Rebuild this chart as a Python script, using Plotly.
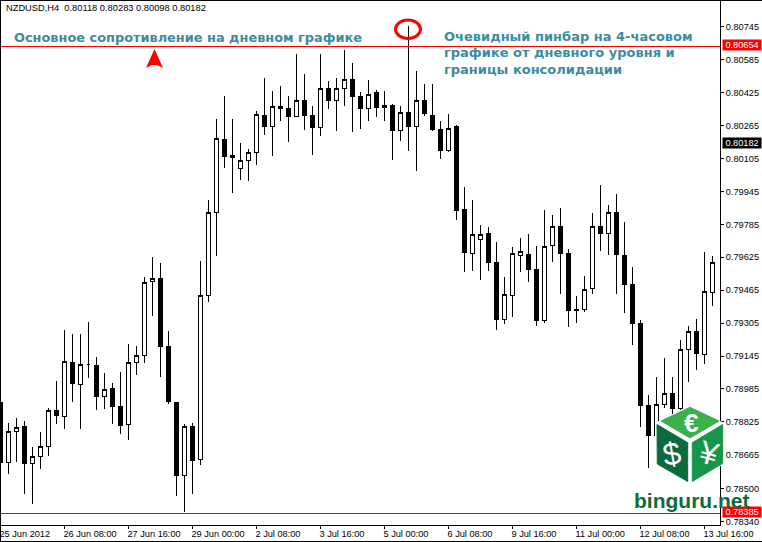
import plotly.graph_objects as go

opens = [.78920,.78629,.78779,.78804,.78624,.78658,.78706,.78881,.78852,.79114,
 .79008,.79105,.79100,.78949,.78988,.78901,.78813,.79114,.79148,.79508,
 .79522,.79192,.78920,.78563,.78804,.78641,.79440,.79843,.80198,.80117,
 .80057,.80096,.80135,.80315,.80261,.80358,.80349,.80310,.80387,.80315,
 .80254,.80446,.80387,.80446,.80489,.80407,.80349,.80426,.80353,.80363,
 .80240,.80329,.80261,.80387,.80315,.80246,.80143,.80258,.79858,.79644,
 .79712,.79741,.79600,.79323,.79440,.79634,.79639,.79566,.79318,.79683,
 .79775,.79644,.79372,.79370,.79474,.79775,.79741,.79843,.79634,.79493,
 .79304,.78906,.78758,.78910,.78964,.78892,.79178,.79265,.79153,.79455]
highs = [.78920,.78818,.78844,.78828,.78701,.78776,.78892,.79024,.79271,.79252,
 .79252,.79309,.79139,.79061,.79012,.79066,.79202,.79192,.79527,.79625,
 .79595,.79265,.78920,.78813,.78821,.79605,.79903,.80295,.80407,.80295,
 .80178,.80149,.80334,.80494,.80431,.80455,.80407,.80611,.80514,.80358,
 .80611,.80480,.80494,.80630,.80567,.80426,.80485,.80436,.80431,.80368,
 .80358,.80747,.80528,.80465,.80465,.80287,.80319,.80267,.79965,.79902,
 .79780,.79770,.79697,.79527,.79673,.79717,.79736,.79678,.79853,.79829,
 .79863,.79664,.79435,.79532,.79838,.79974,.79877,.79931,.79795,.79576,
 .79318,.78954,.79042,.79134,.79042,.79221,.79289,.79323,.79649,.79630]
lows = [.78627,.78573,.78632,.78476,.78427,.78598,.78661,.78816,.78792,.78923,
 .78792,.79040,.78884,.78889,.78816,.78768,.78738,.79054,.79112,.79341,
 .79044,.78913,.78466,.78385,.78476,.78617,.79409,.79632,.80060,.79938,
 .80002,.79997,.80072,.80220,.80118,.80285,.80186,.80306,.80242,.80123,
 .80215,.80347,.80240,.80361,.80235,.80249,.80288,.80308,.80288,.80099,
 .80191,.80143,.80045,.80313,.80240,.80104,.80138,.79807,.79555,.79560,
 .79516,.79560,.79273,.79302,.79336,.79555,.79506,.79292,.79307,.79603,
 .79448,.79287,.79307,.79360,.79448,.79657,.79637,.79448,.79355,.79200,
 .78801,.78602,.78641,.78892,.78786,.78873,.79020,.79079,.79108,.79389]
closes = [.78627,.78779,.78797,.78622,.78656,.78704,.78881,.78855,.79119,.79010,
 .79105,.79105,.78947,.78983,.78899,.78806,.79114,.79148,.79503,.79522,
 .79190,.78923,.78563,.78801,.78638,.79440,.79843,.80203,.80113,.80110,
 .80096,.80135,.80319,.80261,.80358,.80347,.80308,.80387,.80313,.80254,
 .80446,.80387,.80446,.80489,.80405,.80347,.80417,.80351,.80363,.80240,
 .80329,.80259,.80387,.80322,.80245,.80143,.80251,.79851,.79647,.79736,
 .79736,.79600,.79321,.79445,.79644,.79654,.79564,.79316,.79678,.79775,
 .79642,.79365,.79365,.79469,.79775,.79739,.79843,.79637,.79491,.79304,
 .78904,.78758,.78910,.78962,.78892,.79178,.79265,.79156,.79459,.79600]

price_ticks = [0.80745,0.80585,0.80425,0.80265,0.80105,0.79945,0.79785,0.79625,0.79465,
               0.79305,0.79145,0.78985,0.78825,0.78665,0.78500,0.78340]
time_idx = [0,8,16,24,32,40,48,56,64,72,80,88]
time_labels = ["25 Jun 2012","26 Jun 08:00","27 Jun 16:00","29 Jun 00:00","2 Jul 08:00","3 Jul 16:00",
               "5 Jul 00:00","6 Jul 08:00","9 Jul 16:00","11 Jul 00:00","12 Jul 08:00","13 Jul 16:00"]
resistance = 0.80654
support = 0.78385
last_price = 0.80182
header = "NZDUSD,H4  0.80118 0.80283 0.80098 0.80182"
note_left = "Основное сопротивление на дневном графике"
note_right = ["Очевидный пинбар на 4-часовом", "графике от дневного уровня и", "границы консолидации"]

W, H = 762, 542
ML, MR, MT, MB = 0, 42, 1, 17
PW, PH = W - ML - MR, H - MT - MB
def px(x): return (x - ML) / PW
def py(y): return 1 - (y - MT) / PH
def poly(pts, close=True):
    return "M" + " L".join(f"{px(a):.5f},{py(b):.5f}" for a, b in pts) + (" Z" if close else "")

FONT = "Liberation Sans"
TEAL = "#3d8aa5"

fig = go.Figure(go.Candlestick(
    x=list(range(len(opens))), open=opens, high=highs, low=lows, close=closes,
    whiskerwidth=0,
    increasing=dict(fillcolor="white", line=dict(color="black", width=1)),
    decreasing=dict(fillcolor="black", line=dict(color="black", width=1)),
    hoverinfo="skip", showlegend=False,
))

def level(value):
    return dict(type="line", xref="paper", yref="y", ysizemode="pixel", yanchor=value,
                x0=0, x1=1, y0=-1, y1=-1, line=dict(color="#ff0000", width=1))

shapes = [
    level(resistance), level(support),
    dict(type="path", xref="paper", yref="paper", path=poly([(761.5,0.5),(0.5,0.5),(0.5,541.5),(761.5,541.5)], close=False),
         line=dict(color="black", width=1), fillcolor="rgba(0,0,0,0)"),
    dict(type="circle", xref="paper", yref="paper", x0=px(395.5), x1=px(420.5), y0=py(38.5), y1=py(20), line=dict(color="#ff0000", width=3), fillcolor="rgba(0,0,0,0)"),
    dict(type="path", xref="paper", yref="paper", path=poly([(154.5,49),(146,68),(152,65),(157,65),(163,68)]), fillcolor="#ff0000", line=dict(width=0)),
    dict(type="path", xref="paper", yref="paper", path=poly([(690,405),(724,423),(724,464),(690,484),(655,465),(655,423)]), fillcolor="white", line=dict(width=0)),
    dict(type="path", xref="paper", yref="paper", path=poly([(690,407.3),(719,421),(690,438),(661,421)]), fillcolor="#3cb04a", line=dict(color="#3cb04a", width=1)),
    dict(type="path", xref="paper", yref="paper", path=poly([(657,424.5),(687.7,442.7),(687.7,481.5),(657.3,464)]), fillcolor="#0b6b3c", line=dict(color="#0b6b3c", width=1)),
    dict(type="path", xref="paper", yref="paper", path=poly([(722.7,424.5),(692.3,442.7),(692.3,481.5),(722.7,463.3)]), fillcolor="#15964a", line=dict(color="#15964a", width=1)),
]

def text(x, y, s, size=9.2, color="black", family=FONT, bold=False, anchor="left", angle=0, **kw):
    return dict(xref="paper", yref="paper", x=px(x), y=py(y), xanchor=anchor, yanchor="middle",
                text=f"<b>{s}</b>" if bold else s, showarrow=False, textangle=angle,
                font=dict(family=family, size=size, color=color), **kw)

def tag(value, bg):
    return dict(xref="paper", yref="y", x=px(722), y=value, xanchor="left", yanchor="middle",
                text=f"{value:.5f}", showarrow=False, width=38, height=10, bgcolor=bg, borderpad=0,
                align="center", font=dict(family=FONT, size=9.2, color="white"))

annotations = [
    text(4, 8.5, header.replace("  ", "&nbsp;&nbsp;"), size=9.3),
    text(12, 38, note_left, size=12.9, color=TEAL, family="DejaVu Sans", bold=True),
    tag(resistance, "#ff0000"), tag(last_price, "#000000"), tag(support, "#ff0000"),
    text(690.7, 423, "€", size=26, color="white", bold=True, anchor="center"),
    text(671.5, 454, "$", size=32, color="white", anchor="center", angle=-10),
    text(708.5, 453, "¥", size=32, color="white", anchor="center", angle=15),
    text(691.5, 500, "binguru.net", size=21, color="#0d6b3c", bold=True, anchor="center"),
]
for i, line in enumerate(note_right):
    annotations.append(text(442, 36 + i * 16.5, line, size=13, color=TEAL, family="DejaVu Sans", bold=True))

fig.update_layout(
    width=W, height=H, margin=dict(l=ML, r=MR, t=MT, b=MB, autoexpand=False),
    paper_bgcolor="white", plot_bgcolor="white", boxgap=0.36,
    hovermode=False, dragmode=False, shapes=shapes, annotations=annotations,
    font=dict(family=FONT, size=9.2, color="black"),
    xaxis=dict(range=[-0.0625, 89.9375], rangeslider=dict(visible=False), showgrid=False, zeroline=False,
               tickmode="array", tickvals=time_idx, ticktext=time_labels, ticks="outside", ticklen=3,
               tickcolor="black", tickwidth=1, showline=True, linecolor="black", linewidth=1,
               ticklabelposition="outside right", ticklabelshift=-2, ticklabeloverflow="allow",
               tickfont=dict(family=FONT, size=9.2)),
    yaxis=dict(range=[0.78324, 0.80870], side="right", showgrid=False, zeroline=False,
               tickmode="array", tickvals=price_ticks, ticktext=[f"{v:.5f}" for v in price_ticks],
               ticks="outside", ticklen=3, tickcolor="black", tickwidth=1, showline=True,
               linecolor="black", linewidth=1, tickfont=dict(family=FONT, size=9.2)),
)
fig.write_html("out.html", config=dict(displayModeBar=False),
               post_script="document.body.style.margin='0';document.documentElement.style.overflow='hidden';"
               "var s=document.createElement('style');s.textContent='.boxlayer path{shape-rendering:crispEdges !important}';document.head.appendChild(s);"
               "document.querySelectorAll('.shapelayer path').forEach(function(p,i){if(i<3)p.style.shapeRendering='crispEdges';});")
